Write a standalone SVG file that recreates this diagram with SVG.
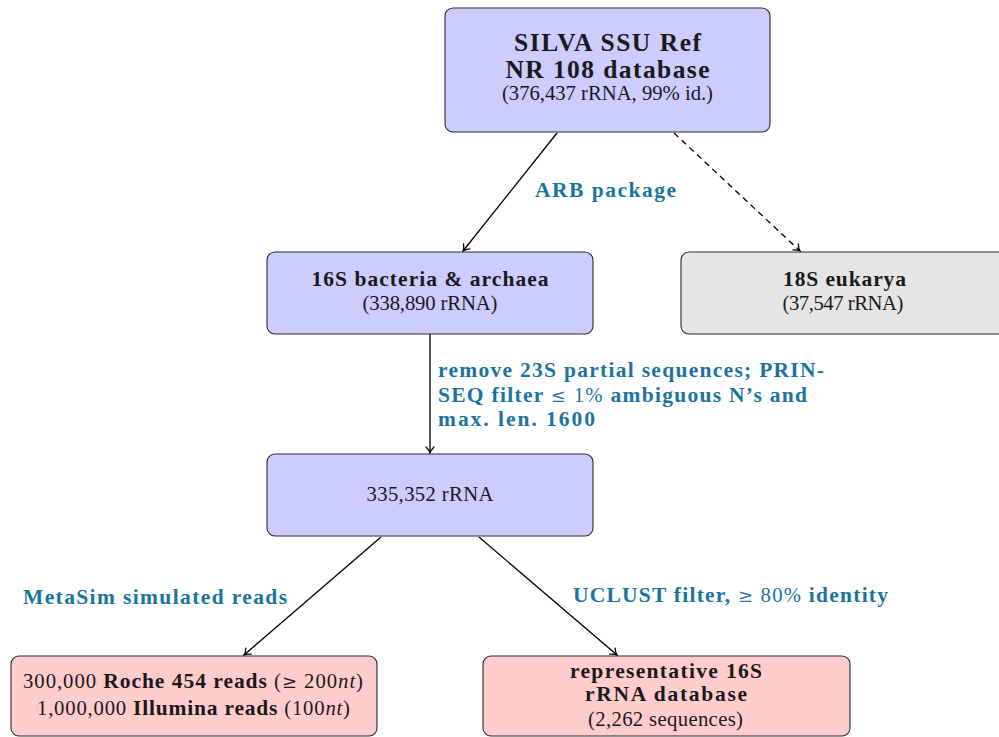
<svg xmlns="http://www.w3.org/2000/svg" width="999" height="737" viewBox="0 0 999 737">
<defs>
<marker id="arr" markerUnits="userSpaceOnUse" markerWidth="14" markerHeight="14" viewBox="-8 -7 10 14" refX="0" refY="0" orient="auto">
<path d="M -6,-4 C -3.5,-1.5 -1.5,-0.4 0,0 C -1.5,0.4 -3.5,1.5 -6,4" fill="none" stroke="#000" stroke-width="1.3" stroke-linecap="round"/>
</marker>
</defs>
<style>
.box{stroke:#2a2a2a;stroke-width:1.1}
.blue{fill:#ccccff}
.gray{fill:#e5e5e5}
.red{fill:#ffcccc}
text{font-family:"Liberation Serif","Times New Roman",serif;fill:#1a1a1a;text-anchor:middle;font-size:20.7px}
.b{font-weight:bold;font-size:21.5px}
.t{font-size:25.5px;font-weight:bold}
.lab{fill:#1b74a0;font-weight:bold;text-anchor:start;font-size:21.5px}
.m{font-weight:normal;font-size:20.7px}
.sym{font-family:"DejaVu Serif",serif;font-size:18px}
.it{font-style:italic}
.edge{stroke:#000;stroke-width:1.3;fill:none;marker-end:url(#arr)}
</style>
<g id="connectors">
<line class="edge" x1="557" y1="133" x2="463" y2="251"/>
<line class="edge" x1="674" y1="133" x2="800" y2="251" stroke-dasharray="6,4.5"/>
<line class="edge" x1="430" y1="334" x2="430" y2="453"/>
<line class="edge" x1="381" y1="537" x2="244" y2="655"/>
<line class="edge" x1="479" y1="537" x2="617" y2="655"/>
<text class="lab" x="535" y="197" textLength="141" lengthAdjust="spacing">ARB package</text>
<text class="lab" x="438" y="377" textLength="386" lengthAdjust="spacing">remove 23S partial sequences; PRIN-</text>
<text class="lab" x="438" y="402" textLength="369" lengthAdjust="spacing">SEQ filter <tspan class="m"><tspan class="sym">≤</tspan> 1%</tspan> ambiguous N’s and</text>
<text class="lab" x="438" y="426" textLength="157" lengthAdjust="spacing">max. len. 1600</text>
<text class="lab" x="23" y="604" textLength="264" lengthAdjust="spacing">MetaSim simulated reads</text>
<text class="lab" x="573" y="602" textLength="315" lengthAdjust="spacing">UCLUST filter, <tspan class="m"><tspan class="sym">≥</tspan> 80%</tspan> identity</text>
</g>
<g id="silva">
<rect class="box blue" x="445" y="8" width="325" height="124" rx="8"/>
<text class="t" x="607.5" y="51" textLength="187" lengthAdjust="spacing">SILVA SSU Ref</text>
<text class="t" x="607.5" y="77.5" textLength="204" lengthAdjust="spacing">NR 108 database</text>
<text x="607.5" y="100" textLength="211" lengthAdjust="spacing">(376,437 rRNA, 99% id.)</text>
</g>
<g id="bact16s">
<rect class="box blue" x="267" y="252" width="326" height="82" rx="8"/>
<text class="b" x="430" y="286" textLength="237" lengthAdjust="spacing">16S bacteria &amp; archaea</text>
<text x="430" y="310" textLength="135" lengthAdjust="spacing">(338,890 rRNA)</text>
</g>
<g id="euk18s">
<rect class="box gray" x="681" y="252" width="327" height="82" rx="8"/>
<text class="b" x="844.5" y="286" textLength="123" lengthAdjust="spacing">18S eukarya</text>
<text x="843" y="310" textLength="121" lengthAdjust="spacing">(37,547 rRNA)</text>
</g>
<g id="filtered">
<rect class="box blue" x="267" y="454" width="326" height="82" rx="8"/>
<text x="430" y="501" textLength="127" lengthAdjust="spacing">335,352 rRNA</text>
</g>
<g id="reads">
<rect class="box red" x="11" y="656" width="366" height="80" rx="8"/>
<text x="193" y="688" textLength="340" lengthAdjust="spacing">300,000 <tspan class="b">Roche 454 reads</tspan> (<tspan class="sym">≥</tspan> 200<tspan class="it">nt</tspan>)</text>
<text x="193.5" y="715" textLength="313" lengthAdjust="spacing">1,000,000 <tspan class="b">Illumina reads</tspan> (100<tspan class="it">nt</tspan>)</text>
</g>
<g id="repdb">
<rect class="box red" x="483" y="656" width="367" height="80" rx="8"/>
<text class="b" x="666" y="678" textLength="192" lengthAdjust="spacing">representative 16S</text>
<text class="b" x="666" y="701" textLength="162" lengthAdjust="spacing">rRNA database</text>
<text x="665.5" y="726" textLength="155" lengthAdjust="spacing">(2,262 sequences)</text>
</g>
</svg>
